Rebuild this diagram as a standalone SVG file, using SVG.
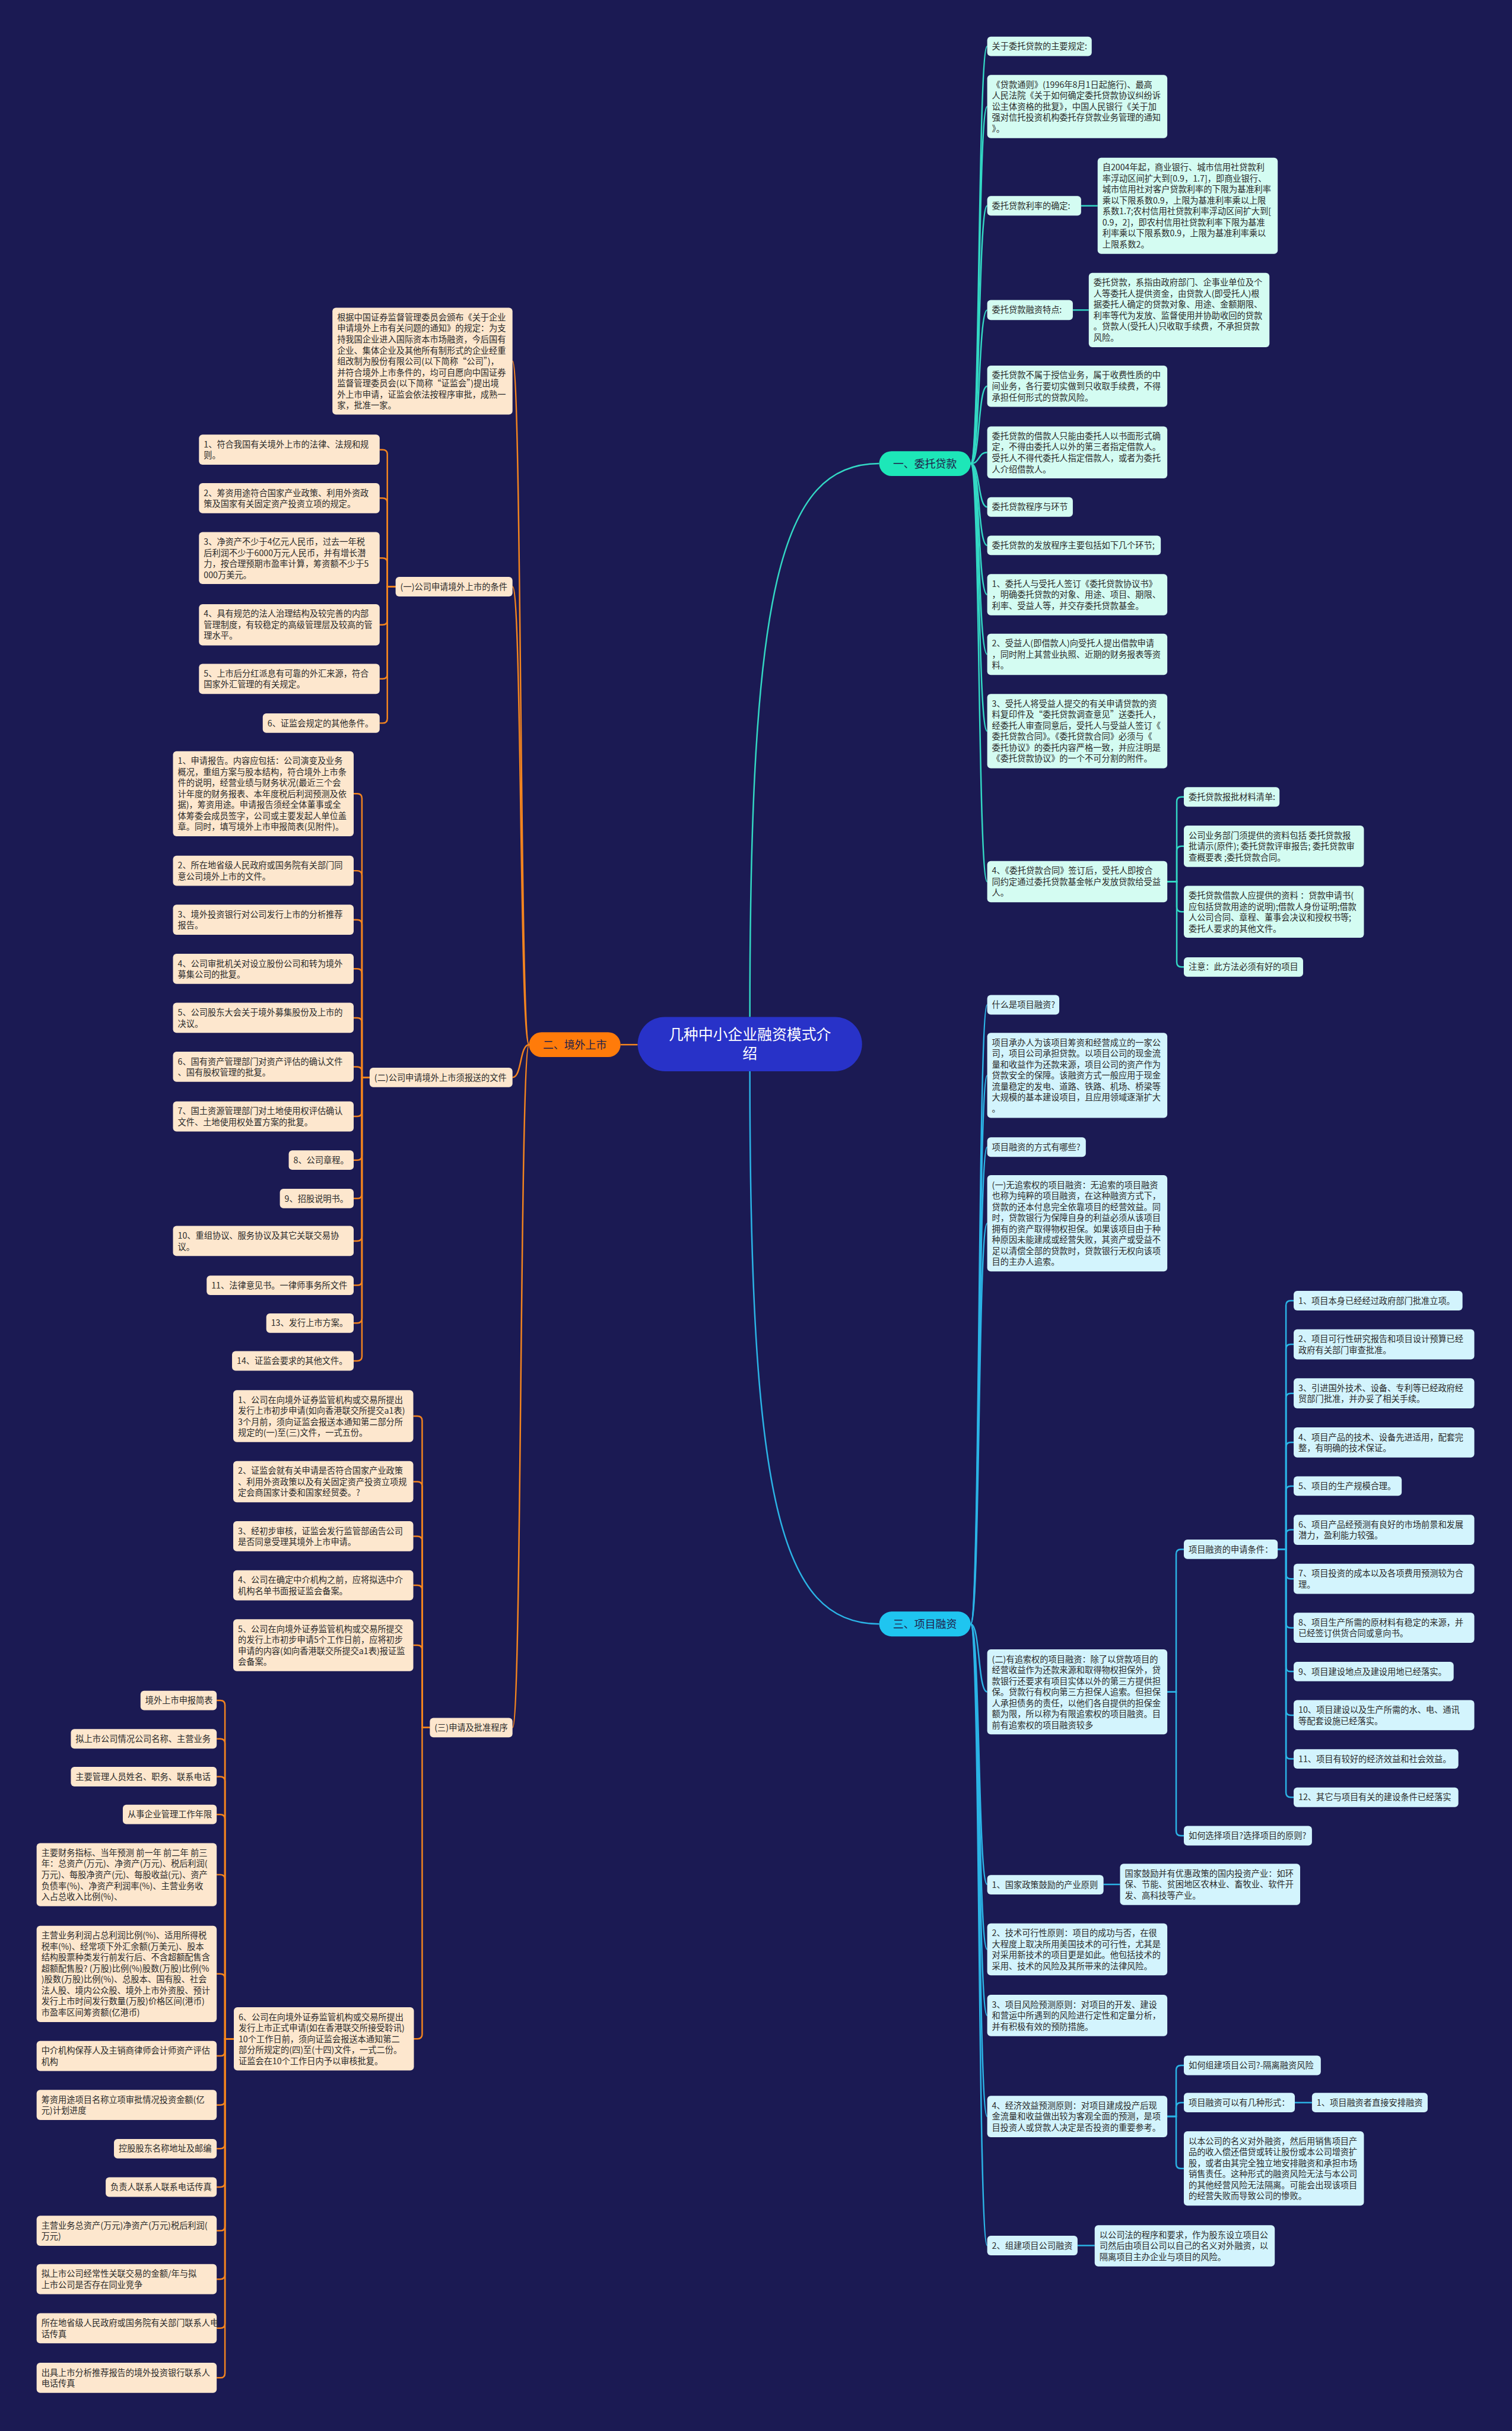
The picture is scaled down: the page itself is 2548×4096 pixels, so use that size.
<svg xmlns="http://www.w3.org/2000/svg" width="2548" height="4096" viewBox="0 0 2548 4096">
<style>
.tx{font-family:"Noto Sans CJK SC","Liberation Sans",sans-serif;font-size:14.3px;fill:#2a2a2a}
.t{fill:#d4fcf2}
.b{fill:#d3f4fd}
.o{fill:#fde7ce}
.lt{fill:none;stroke:#33d8c4;stroke-width:2.5}
.lb{fill:none;stroke:#2bb4e6;stroke-width:2.5}
.lo{fill:none;stroke:#f3841f;stroke-width:2.5}
.pl{font-family:"Noto Sans CJK SC","Liberation Sans",sans-serif;font-size:18px;fill:#20204a;text-anchor:middle}
</style>
<rect width="2548" height="4096" fill="#1b1a53"/>
<g transform="scale(0.995)">
<g id="connectors">
<path class="lt" d="M1270,1722 C1270,1000 1320,785 1489,785"/>
<path class="lb" d="M1270,1814 C1270,2536 1320,2750 1489,2750"/>
<path class="lo" d="M1080,1769 H1051"/>
<path class="lt" d="M1644,785 C1660,785 1656,78.5 1672,78.5"/>
<path class="lt" d="M1644,785 C1660,785 1656,180.5 1672,180.5"/>
<path class="lt" d="M1644,785 C1660,785 1656,348.5 1672,348.5"/>
<path class="lt" d="M1644,785 C1660,785 1656,525 1672,525"/>
<path class="lt" d="M1644,785 C1660,785 1656,654 1672,654"/>
<path class="lt" d="M1644,785 C1660,785 1656,766 1672,766"/>
<path class="lt" d="M1644,785 C1660,785 1656,858.5 1672,858.5"/>
<path class="lt" d="M1644,785 C1660,785 1656,923.5 1672,923.5"/>
<path class="lt" d="M1644,785 C1660,785 1656,1007 1672,1007"/>
<path class="lt" d="M1644,785 C1660,785 1656,1108 1672,1108"/>
<path class="lt" d="M1644,785 C1660,785 1656,1238 1672,1238"/>
<path class="lt" d="M1644,785 C1660,785 1656,1493 1672,1493"/>
<path class="lt" d="M1831,348.5 H1859"/>
<path class="lt" d="M1817,525 H1844"/>
<path class="lt" d="M1977,1493H1993V1357.5Q1993,1349.5 2001,1349.5H2005"/>
<path class="lt" d="M1977,1493H1993V1441Q1993,1433 2001,1433H2005"/>
<path class="lt" d="M1977,1493H1993V1536Q1993,1544 2001,1544H2005"/>
<path class="lt" d="M1977,1493H1993V1629.5Q1993,1637.5 2001,1637.5H2005"/>
<path class="lb" d="M1644,2750 C1660,2750 1656,1701.5 1672,1701.5"/>
<path class="lb" d="M1644,2750 C1660,2750 1656,1821 1672,1821"/>
<path class="lb" d="M1644,2750 C1660,2750 1656,1942.5 1672,1942.5"/>
<path class="lb" d="M1644,2750 C1660,2750 1656,2071.5 1672,2071.5"/>
<path class="lb" d="M1644,2750 C1660,2750 1656,2865 1672,2865"/>
<path class="lb" d="M1644,2750 C1660,2750 1656,3191 1672,3191"/>
<path class="lb" d="M1644,2750 C1660,2750 1656,3301 1672,3301"/>
<path class="lb" d="M1644,2750 C1660,2750 1656,3413 1672,3413"/>
<path class="lb" d="M1644,2750 C1660,2750 1656,3584 1672,3584"/>
<path class="lb" d="M1644,2750 C1660,2750 1656,3802.5 1672,3802.5"/>
<path class="lb" d="M1977,2865H1992V2631.5Q1992,2623.5 2000,2623.5H2005"/>
<path class="lb" d="M1977,2865H1992V3100.5Q1992,3108.5 2000,3108.5H2005"/>
<path class="lb" d="M2164,2623.5H2178V2210.5Q2178,2202.5 2186,2202.5H2191"/>
<path class="lb" d="M2164,2623.5H2178V2284.5Q2178,2276.5 2186,2276.5H2191"/>
<path class="lb" d="M2164,2623.5H2178V2367.5Q2178,2359.5 2186,2359.5H2191"/>
<path class="lb" d="M2164,2623.5H2178V2450.5Q2178,2442.5 2186,2442.5H2191"/>
<path class="lb" d="M2164,2623.5H2178V2524.5Q2178,2516.5 2186,2516.5H2191"/>
<path class="lb" d="M2164,2623.5H2178V2598.5Q2178,2590.5 2186,2590.5H2191"/>
<path class="lb" d="M2164,2623.5H2178V2665.5Q2178,2673.5 2186,2673.5H2191"/>
<path class="lb" d="M2164,2623.5H2178V2748.5Q2178,2756.5 2186,2756.5H2191"/>
<path class="lb" d="M2164,2623.5H2178V2822.5Q2178,2830.5 2186,2830.5H2191"/>
<path class="lb" d="M2164,2623.5H2178V2896.5Q2178,2904.5 2186,2904.5H2191"/>
<path class="lb" d="M2164,2623.5H2178V2970.5Q2178,2978.5 2186,2978.5H2191"/>
<path class="lb" d="M2164,2623.5H2178V3035.5Q2178,3043.5 2186,3043.5H2191"/>
<path class="lb" d="M1869,3191 H1897"/>
<path class="lb" d="M1977,3584H1992V3505.5Q1992,3497.5 2000,3497.5H2005"/>
<path class="lb" d="M1977,3584H1992V3568.5Q1992,3560.5 2000,3560.5H2005"/>
<path class="lb" d="M1977,3584H1992V3664Q1992,3672 2000,3672H2005"/>
<path class="lb" d="M2193,3560.5 H2222"/>
<path class="lb" d="M1825,3802.5 H1854"/>
<path class="lo" d="M896,1769 C880,1769 884,611.5 868,611.5"/>
<path class="lo" d="M896,1769 C880,1769 884,993.5 868,993.5"/>
<path class="lo" d="M896,1769 C880,1769 884,1824.5 868,1824.5"/>
<path class="lo" d="M896,1769 C880,1769 884,2925.5 868,2925.5"/>
<path class="lo" d="M670,993.5H656V769.5Q656,761.5 648,761.5H643"/>
<path class="lo" d="M670,993.5H656V851.5Q656,843.5 648,843.5H643"/>
<path class="lo" d="M670,993.5H656V953Q656,945 648,945H643"/>
<path class="lo" d="M670,993.5H656V1050Q656,1058 648,1058H643"/>
<path class="lo" d="M670,993.5H656V1141.5Q656,1149.5 648,1149.5H643"/>
<path class="lo" d="M670,993.5H656V1216.5Q656,1224.5 648,1224.5H643"/>
<path class="lo" d="M626,1824.5H613V1352Q613,1344 605,1344H599"/>
<path class="lo" d="M626,1824.5H613V1482.5Q613,1474.5 605,1474.5H599"/>
<path class="lo" d="M626,1824.5H613V1565.5Q613,1557.5 605,1557.5H599"/>
<path class="lo" d="M626,1824.5H613V1648.5Q613,1640.5 605,1640.5H599"/>
<path class="lo" d="M626,1824.5H613V1731.5Q613,1723.5 605,1723.5H599"/>
<path class="lo" d="M626,1824.5H613V1814.5Q613,1806.5 605,1806.5H599"/>
<path class="lo" d="M626,1824.5H613V1882.5Q613,1890.5 605,1890.5H599"/>
<path class="lo" d="M626,1824.5H613V1956.5Q613,1964.5 605,1964.5H599"/>
<path class="lo" d="M626,1824.5H613V2021.5Q613,2029.5 605,2029.5H599"/>
<path class="lo" d="M626,1824.5H613V2093.5Q613,2101.5 605,2101.5H599"/>
<path class="lo" d="M626,1824.5H613V2168.5Q613,2176.5 605,2176.5H599"/>
<path class="lo" d="M626,1824.5H613V2232.5Q613,2240.5 605,2240.5H599"/>
<path class="lo" d="M626,1824.5H613V2296.5Q613,2304.5 605,2304.5H599"/>
<path class="lo" d="M728,2925.5H715V2406Q715,2398 707,2398H700"/>
<path class="lo" d="M728,2925.5H715V2517Q715,2509 707,2509H700"/>
<path class="lo" d="M728,2925.5H715V2609.5Q715,2601.5 707,2601.5H700"/>
<path class="lo" d="M728,2925.5H715V2692.5Q715,2684.5 707,2684.5H700"/>
<path class="lo" d="M728,2925.5H715V2794Q715,2786 707,2786H700"/>
<path class="lo" d="M728,2925.5H715V3444.5Q715,3452.5 707,3452.5H700"/>
<path class="lo" d="M396,3452.5H381V2887.5Q381,2879.5 373,2879.5H367"/>
<path class="lo" d="M396,3452.5H381V2952.5Q381,2944.5 373,2944.5H367"/>
<path class="lo" d="M396,3452.5H381V3016.5Q381,3008.5 373,3008.5H367"/>
<path class="lo" d="M396,3452.5H381V3080.5Q381,3072.5 373,3072.5H367"/>
<path class="lo" d="M396,3452.5H381V3182.5Q381,3174.5 373,3174.5H367"/>
<path class="lo" d="M396,3452.5H381V3350.5Q381,3342.5 373,3342.5H367"/>
<path class="lo" d="M396,3452.5H381V3473.5Q381,3481.5 373,3481.5H367"/>
<path class="lo" d="M396,3452.5H381V3556.5Q381,3564.5 373,3564.5H367"/>
<path class="lo" d="M396,3452.5H381V3630.5Q381,3638.5 373,3638.5H367"/>
<path class="lo" d="M396,3452.5H381V3695.5Q381,3703.5 373,3703.5H367"/>
<path class="lo" d="M396,3452.5H381V3769.5Q381,3777.5 373,3777.5H367"/>
<path class="lo" d="M396,3452.5H381V3851.5Q381,3859.5 373,3859.5H367"/>
<path class="lo" d="M396,3452.5H381V3934.5Q381,3942.5 373,3942.5H367"/>
<path class="lo" d="M396,3452.5H381V4018.5Q381,4026.5 373,4026.5H367"/>
</g>

<g id="center"><rect x="1080" y="1722" width="380" height="92" rx="46" fill="#2832c8"/><text font-family="Noto Sans CJK SC, Liberation Sans, sans-serif" font-size="25" fill="#ffffff" text-anchor="middle"><tspan x="1270" y="1761">几种中小企业融资模式介</tspan><tspan x="1270" y="1793">绍</tspan></text></g>
<g id="b1"><rect x="1489" y="764" width="155" height="42" rx="21" fill="#1de7b8"/><text class="pl" x="1566.5" y="791.5">一、委托贷款</text></g>
<g id="b2"><rect x="896" y="1748" width="155" height="42" rx="21" fill="#ff7b0a"/><text class="pl" x="973.5" y="1775.5">二、境外上市</text></g>
<g id="b3"><rect x="1489" y="2729" width="155" height="42" rx="21" fill="#1fc5f0"/><text class="pl" x="1566.5" y="2756.5">三、项目融资</text></g>

<g id="r1"><rect class="t" x="1672" y="62" width="177" height="33" rx="6"/><text class="tx" x="1680" y="83.7">关于委托贷款的主要规定:</text></g>
<g id="r2"><rect class="t" x="1672" y="127" width="305" height="107" rx="6"/><text class="tx"><tspan x="1680" y="148.7">《贷款通则》(1996年8月1日起施行)、最高</tspan><tspan x="1680" y="167.3">人民法院《关于如何确定委托贷款协议纠纷诉</tspan><tspan x="1680" y="185.9">讼主体资格的批复》，中国人民银行《关于加</tspan><tspan x="1680" y="204.5">强对信托投资机构委托存贷款业务管理的通知</tspan><tspan x="1680" y="223.1">》。</tspan></text></g>
<g id="r3"><rect class="t" x="1672" y="332" width="159" height="33" rx="6"/><text class="tx" x="1680" y="353.7">委托贷款利率的确定:</text></g>
<g id="r3a"><rect class="t" x="1859" y="267" width="305" height="163" rx="6"/><text class="tx"><tspan x="1867" y="288.7">自2004年起，商业银行、城市信用社贷款利</tspan><tspan x="1867" y="307.3">率浮动区间扩大到[0.9，1.7]，即商业银行、</tspan><tspan x="1867" y="325.9">城市信用社对客户贷款利率的下限为基准利率</tspan><tspan x="1867" y="344.5">乘以下限系数0.9，上限为基准利率乘以上限</tspan><tspan x="1867" y="363.1">系数1.7;农村信用社贷款利率浮动区间扩大到[</tspan><tspan x="1867" y="381.7">0.9，2]，即农村信用社贷款利率下限为基准</tspan><tspan x="1867" y="400.3">利率乘以下限系数0.9，上限为基准利率乘以</tspan><tspan x="1867" y="418.9">上限系数2。</tspan></text></g>
<g id="r4"><rect class="t" x="1672" y="508" width="145" height="34" rx="6"/><text class="tx" x="1680" y="530">委托贷款融资特点:</text></g>
<g id="r4a"><rect class="t" x="1844" y="462" width="306" height="126" rx="6"/><text class="tx"><tspan x="1852" y="483.7">委托贷款，系指由政府部门、企事业单位及个</tspan><tspan x="1852" y="502.3">人等委托人提供资金，由贷款人(即受托人)根</tspan><tspan x="1852" y="520.9">据委托人确定的贷款对象、用途、金额期限、</tspan><tspan x="1852" y="539.5">利率等代为发放、监督使用并协助收回的贷款</tspan><tspan x="1852" y="558.1">。贷款人(受托人)只收取手续费，不承担贷款</tspan><tspan x="1852" y="576.7">风险。</tspan></text></g>
<g id="r5"><rect class="t" x="1672" y="619" width="305" height="70" rx="6"/><text class="tx"><tspan x="1680" y="640.7">委托贷款不属于授信业务，属于收费性质的中</tspan><tspan x="1680" y="659.3">间业务，各行要切实做到只收取手续费，不得</tspan><tspan x="1680" y="677.9">承担任何形式的贷款风险。</tspan></text></g>
<g id="r6"><rect class="t" x="1672" y="722" width="305" height="88" rx="6"/><text class="tx"><tspan x="1680" y="743.7">委托贷款的借款人只能由委托人以书面形式确</tspan><tspan x="1680" y="762.3">定，不得由委托人以外的第三者指定借款人。</tspan><tspan x="1680" y="780.9">受托人不得代委托人指定借款人，或者为委托</tspan><tspan x="1680" y="799.5">人介绍借款人。</tspan></text></g>
<g id="r7"><rect class="t" x="1672" y="842" width="145" height="33" rx="6"/><text class="tx" x="1680" y="863.7">委托贷款程序与环节</text></g>
<g id="r8"><rect class="t" x="1672" y="907" width="294" height="33" rx="6"/><text class="tx" x="1680" y="928.7">委托贷款的发放程序主要包括如下几个环节;</text></g>
<g id="r9"><rect class="t" x="1672" y="972" width="305" height="70" rx="6"/><text class="tx"><tspan x="1680" y="993.7">1、委托人与受托人签订《委托贷款协议书》</tspan><tspan x="1680" y="1012.3">，明确委托贷款的对象、用途、项目、期限、</tspan><tspan x="1680" y="1030.9">利率、受益人等，并交存委托贷款基金。</tspan></text></g>
<g id="r10"><rect class="t" x="1672" y="1073" width="305" height="70" rx="6"/><text class="tx"><tspan x="1680" y="1094.7">2、受益人(即借款人)向受托人提出借款申请</tspan><tspan x="1680" y="1113.3">，同时附上其营业执照、近期的财务报表等资</tspan><tspan x="1680" y="1131.9">料。</tspan></text></g>
<g id="r11"><rect class="t" x="1672" y="1175" width="305" height="126" rx="6"/><text class="tx"><tspan x="1680" y="1196.7">3、受托人将受益人提交的有关申请贷款的资</tspan><tspan x="1680" y="1215.3">料复印件及“委托贷款调查意见”送委托人，</tspan><tspan x="1680" y="1233.9">经委托人审查同意后，受托人与受益人签订《</tspan><tspan x="1680" y="1252.5">委托贷款合同》。《委托贷款合同》必须与《</tspan><tspan x="1680" y="1271.1">委托协议》的委托内容严格一致，并应注明是</tspan><tspan x="1680" y="1289.7">《委托贷款协议》的一个不可分割的附件。</tspan></text></g>
<g id="r12"><rect class="t" x="1672" y="1458" width="305" height="70" rx="6"/><text class="tx"><tspan x="1680" y="1479.7">4、《委托贷款合同》签订后，受托人即按合</tspan><tspan x="1680" y="1498.3">同约定通过委托贷款基金帐户发放贷款给受益</tspan><tspan x="1680" y="1516.9">人。</tspan></text></g>
<g id="r12a"><rect class="t" x="2005" y="1333" width="162" height="33" rx="6"/><text class="tx" x="2013" y="1354.7">委托贷款报批材料清单:</text></g>
<g id="r12b"><rect class="t" x="2005" y="1398" width="305" height="70" rx="6"/><text class="tx"><tspan x="2013" y="1419.7">公司业务部门须提供的资料包括 委托贷款报</tspan><tspan x="2013" y="1438.3">批请示(原件); 委托贷款评审报告; 委托贷款审</tspan><tspan x="2013" y="1456.9">查概要表 ;委托贷款合同。</tspan></text></g>
<g id="r12c"><rect class="t" x="2005" y="1500" width="305" height="88" rx="6"/><text class="tx"><tspan x="2013" y="1521.7">委托贷款借款人应提供的资料 ：贷款申请书(</tspan><tspan x="2013" y="1540.3">应包括贷款用途的说明);借款人身份证明;借款</tspan><tspan x="2013" y="1558.9">人公司合同、章程、董事会决议和授权书等;</tspan><tspan x="2013" y="1577.5">委托人要求的其他文件。</tspan></text></g>
<g id="r12d"><rect class="t" x="2005" y="1621" width="202" height="33" rx="6"/><text class="tx" x="2013" y="1642.7">注意：此方法必须有好的项目</text></g>

<g id="p1"><rect class="b" x="1672" y="1685" width="122" height="33" rx="6"/><text class="tx" x="1680" y="1706.7">什么是项目融资?</text></g>
<g id="p2"><rect class="b" x="1672" y="1749" width="305" height="144" rx="6"/><text class="tx"><tspan x="1680" y="1770.7">项目承办人为该项目筹资和经营成立的一家公</tspan><tspan x="1680" y="1789.3">司，项目公司承担贷款。以项目公司的现金流</tspan><tspan x="1680" y="1807.9">量和收益作为还款来源，项目公司的资产作为</tspan><tspan x="1680" y="1826.5">贷款安全的保障。该融资方式一般应用于现金</tspan><tspan x="1680" y="1845.1">流量稳定的发电、道路、铁路、机场、桥梁等</tspan><tspan x="1680" y="1863.7">大规模的基本建设项目，且应用领域逐渐扩大</tspan><tspan x="1680" y="1882.3">。</tspan></text></g>
<g id="p3"><rect class="b" x="1672" y="1926" width="167" height="33" rx="6"/><text class="tx" x="1680" y="1947.7">项目融资的方式有哪些?</text></g>
<g id="p4"><rect class="b" x="1672" y="1990" width="305" height="163" rx="6"/><text class="tx"><tspan x="1680" y="2011.7">(一)无追索权的项目融资：无追索的项目融资</tspan><tspan x="1680" y="2030.3">也称为纯粹的项目融资，在这种融资方式下，</tspan><tspan x="1680" y="2048.9">贷款的还本付息完全依靠项目的经营效益。同</tspan><tspan x="1680" y="2067.5">时，贷款银行为保障自身的利益必须从该项目</tspan><tspan x="1680" y="2086.1">拥有的资产取得物权担保。如果该项目由于种</tspan><tspan x="1680" y="2104.7">种原因未能建成或经营失败，其资产或受益不</tspan><tspan x="1680" y="2123.3">足以清偿全部的贷款时，贷款银行无权向该项</tspan><tspan x="1680" y="2141.9">目的主办人追索。</tspan></text></g>
<g id="p5"><rect class="b" x="1672" y="2793" width="305" height="144" rx="6"/><text class="tx"><tspan x="1680" y="2814.7">(二)有追索权的项目融资：除了以贷款项目的</tspan><tspan x="1680" y="2833.3">经营收益作为还款来源和取得物权担保外，贷</tspan><tspan x="1680" y="2851.9">款银行还要求有项目实体以外的第三方提供担</tspan><tspan x="1680" y="2870.5">保。贷款行有权向第三方担保人追索。但担保</tspan><tspan x="1680" y="2889.1">人承担债务的责任，以他们各自提供的担保金</tspan><tspan x="1680" y="2907.7">额为限，所以称为有限追索权的项目融资。目</tspan><tspan x="1680" y="2926.3">前有追索权的项目融资较多</tspan></text></g>
<g id="p5a"><rect class="b" x="2005" y="2607" width="159" height="33" rx="6"/><text class="tx" x="2013" y="2628.7">项目融资的申请条件：</text></g>
<g id="c1"><rect class="b" x="2191" y="2186" width="286" height="33" rx="6"/><text class="tx" x="2199" y="2207.7">1、项目本身已经经过政府部门批准立项。</text></g>
<g id="c2"><rect class="b" x="2191" y="2251" width="306" height="51" rx="6"/><text class="tx"><tspan x="2199" y="2272.7">2、项目可行性研究报告和项目设计预算已经</tspan><tspan x="2199" y="2291.3">政府有关部门审查批准。</tspan></text></g>
<g id="c3"><rect class="b" x="2191" y="2334" width="306" height="51" rx="6"/><text class="tx"><tspan x="2199" y="2355.7">3、引进国外技术、设备、专利等已经政府经</tspan><tspan x="2199" y="2374.3">贸部门批准，并办妥了相关手续。</tspan></text></g>
<g id="c4"><rect class="b" x="2191" y="2417" width="306" height="51" rx="6"/><text class="tx"><tspan x="2199" y="2438.7">4、项目产品的技术、设备先进适用，配套完</tspan><tspan x="2199" y="2457.3">整，有明确的技术保证。</tspan></text></g>
<g id="c5"><rect class="b" x="2191" y="2500" width="183" height="33" rx="6"/><text class="tx" x="2199" y="2521.7">5、项目的生产规模合理。</text></g>
<g id="c6"><rect class="b" x="2191" y="2565" width="306" height="51" rx="6"/><text class="tx"><tspan x="2199" y="2586.7">6、项目产品经预测有良好的市场前景和发展</tspan><tspan x="2199" y="2605.3">潜力，盈利能力较强。</tspan></text></g>
<g id="c7"><rect class="b" x="2191" y="2648" width="306" height="51" rx="6"/><text class="tx"><tspan x="2199" y="2669.7">7、项目投资的成本以及各项费用预测较为合</tspan><tspan x="2199" y="2688.3">理。</tspan></text></g>
<g id="c8"><rect class="b" x="2191" y="2731" width="306" height="51" rx="6"/><text class="tx"><tspan x="2199" y="2752.7">8、项目生产所需的原材料有稳定的来源，并</tspan><tspan x="2199" y="2771.3">已经签订供货合同或意向书。</tspan></text></g>
<g id="c9"><rect class="b" x="2191" y="2814" width="271" height="33" rx="6"/><text class="tx" x="2199" y="2835.7">9、项目建设地点及建设用地已经落实。</text></g>
<g id="c10"><rect class="b" x="2191" y="2879" width="306" height="51" rx="6"/><text class="tx"><tspan x="2199" y="2900.7">10、项目建设以及生产所需的水、电、通讯</tspan><tspan x="2199" y="2919.3">等配套设施已经落实。</tspan></text></g>
<g id="c11"><rect class="b" x="2191" y="2962" width="279" height="33" rx="6"/><text class="tx" x="2199" y="2983.7">11、项目有较好的经济效益和社会效益。</text></g>
<g id="c12"><rect class="b" x="2191" y="3027" width="279" height="33" rx="6"/><text class="tx" x="2199" y="3048.7">12、其它与项目有关的建设条件已经落实</text></g>
<g id="p5b"><rect class="b" x="2005" y="3092" width="217" height="33" rx="6"/><text class="tx" x="2013" y="3113.7">如何选择项目?选择项目的原则?</text></g>
<g id="p6"><rect class="b" x="1672" y="3175" width="197" height="33" rx="6"/><text class="tx" x="1680" y="3196.7">1、国家政策鼓励的产业原则</text></g>
<g id="p6a"><rect class="b" x="1897" y="3156" width="305" height="70" rx="6"/><text class="tx"><tspan x="1905" y="3177.7">国家鼓励并有优惠政策的国内投资产业：如环</tspan><tspan x="1905" y="3196.3">保、节能、贫困地区农林业、畜牧业、软件开</tspan><tspan x="1905" y="3214.9">发、高科技等产业。</tspan></text></g>
<g id="p7"><rect class="b" x="1672" y="3257" width="305" height="88" rx="6"/><text class="tx"><tspan x="1680" y="3278.7">2、技术可行性原则：项目的成功与否，在很</tspan><tspan x="1680" y="3297.3">大程度上取决所用美国技术的可行性，尤其是</tspan><tspan x="1680" y="3315.9">对采用新技术的项目更是如此。他包括技术的</tspan><tspan x="1680" y="3334.5">采用、技术的风险及其所带来的法律风险。</tspan></text></g>
<g id="p8"><rect class="b" x="1672" y="3378" width="305" height="70" rx="6"/><text class="tx"><tspan x="1680" y="3399.7">3、项目风险预测原则：对项目的开发、建设</tspan><tspan x="1680" y="3418.3">和营运中所遇到的风险进行定性和定量分析，</tspan><tspan x="1680" y="3436.9">并有积极有效的预防措施。</tspan></text></g>
<g id="p9"><rect class="b" x="1672" y="3549" width="305" height="70" rx="6"/><text class="tx"><tspan x="1680" y="3570.7">4、经济效益预测原则：对项目建成投产后现</tspan><tspan x="1680" y="3589.3">金流量和收益做出较为客观全面的预测，是项</tspan><tspan x="1680" y="3607.9">目投资人或贷款人决定是否投资的重要参考。</tspan></text></g>
<g id="p9a"><rect class="b" x="2005" y="3481" width="232" height="33" rx="6"/><text class="tx" x="2013" y="3502.7">如何组建项目公司?-隔离融资风险</text></g>
<g id="p9b"><rect class="b" x="2005" y="3544" width="188" height="33" rx="6"/><text class="tx" x="2013" y="3565.7">项目融资可以有几种形式：</text></g>
<g id="p9b1"><rect class="b" x="2222" y="3544" width="196" height="33" rx="6"/><text class="tx" x="2230" y="3565.7">1、项目融资者直接安排融资</text></g>
<g id="p9c"><rect class="b" x="2005" y="3609" width="305" height="126" rx="6"/><text class="tx"><tspan x="2013" y="3630.7">以本公司的名义对外融资，然后用销售项目产</tspan><tspan x="2013" y="3649.3">品的收入偿还借贷或转让股份或本公司增资扩</tspan><tspan x="2013" y="3667.9">股，或者由其完全独立地安排融资和承担市场</tspan><tspan x="2013" y="3686.5">销售责任。这种形式的融资风险无法与本公司</tspan><tspan x="2013" y="3705.1">的其他经营风险无法隔离。可能会出现该项目</tspan><tspan x="2013" y="3723.7">的经营失败而导致公司的惨败。</tspan></text></g>
<g id="p10"><rect class="b" x="1672" y="3786" width="153" height="33" rx="6"/><text class="tx" x="1680" y="3807.7">2、组建项目公司融资</text></g>
<g id="p10a"><rect class="b" x="1854" y="3768" width="305" height="70" rx="6"/><text class="tx"><tspan x="1862" y="3789.7">以公司法的程序和要求，作为股东设立项目公</tspan><tspan x="1862" y="3808.3">司然后由项目公司以自己的名义对外融资，以</tspan><tspan x="1862" y="3826.9">隔离项目主办企业与项目的风险。</tspan></text></g>

<g id="l0"><rect class="o" x="563" y="521" width="305" height="181" rx="6"/><text class="tx"><tspan x="571" y="542.7">根据中国证券监督管理委员会颁布《关于企业</tspan><tspan x="571" y="561.3">申请境外上市有关问题的通知》的规定：为支</tspan><tspan x="571" y="579.9">持我国企业进入国际资本市场融资，今后国有</tspan><tspan x="571" y="598.5">企业、集体企业及其他所有制形式的企业经重</tspan><tspan x="571" y="617.1">组改制为股份有限公司(以下简称“公司”)，</tspan><tspan x="571" y="635.7">并符合境外上市条件的，均可自愿向中国证券</tspan><tspan x="571" y="654.3">监督管理委员会(以下简称“证监会”)提出境</tspan><tspan x="571" y="672.9">外上市申请，证监会依法按程序审批，成熟一</tspan><tspan x="571" y="691.5">家，批准一家。</tspan></text></g>
<g id="l1"><rect class="o" x="670" y="977" width="198" height="33" rx="6"/><text class="tx" x="678" y="998.7">(一)公司申请境外上市的条件</text></g>
<g id="l1c1"><rect class="o" x="337" y="736" width="306" height="51" rx="6"/><text class="tx"><tspan x="345" y="757.7">1、符合我国有关境外上市的法律、法规和规</tspan><tspan x="345" y="776.3">则。</tspan></text></g>
<g id="l1c2"><rect class="o" x="337" y="818" width="306" height="51" rx="6"/><text class="tx"><tspan x="345" y="839.7">2、筹资用途符合国家产业政策、利用外资政</tspan><tspan x="345" y="858.3">策及国家有关固定资产投资立项的规定。</tspan></text></g>
<g id="l1c3"><rect class="o" x="337" y="901" width="306" height="88" rx="6"/><text class="tx"><tspan x="345" y="922.7">3、净资产不少于4亿元人民币，过去一年税</tspan><tspan x="345" y="941.3">后利润不少于6000万元人民币，并有增长潜</tspan><tspan x="345" y="959.9">力，按合理预期市盈率计算，筹资额不少于5</tspan><tspan x="345" y="978.5">000万美元。</tspan></text></g>
<g id="l1c4"><rect class="o" x="337" y="1023" width="306" height="70" rx="6"/><text class="tx"><tspan x="345" y="1044.7">4、具有规范的法人治理结构及较完善的内部</tspan><tspan x="345" y="1063.3">管理制度，有较稳定的高级管理层及较高的管</tspan><tspan x="345" y="1081.9">理水平。</tspan></text></g>
<g id="l1c5"><rect class="o" x="337" y="1124" width="306" height="51" rx="6"/><text class="tx"><tspan x="345" y="1145.7">5、上市后分红派息有可靠的外汇来源，符合</tspan><tspan x="345" y="1164.3">国家外汇管理的有关规定。</tspan></text></g>
<g id="l1c6"><rect class="o" x="445" y="1208" width="198" height="33" rx="6"/><text class="tx" x="453" y="1229.7">6、证监会规定的其他条件。</text></g>

<g id="l2"><rect class="o" x="626" y="1808" width="242" height="33" rx="6"/><text class="tx" x="634" y="1829.7">(二)公司申请境外上市须报送的文件</text></g>
<g id="l2c1"><rect class="o" x="293" y="1272" width="306" height="144" rx="6"/><text class="tx"><tspan x="301" y="1293.7">1、申请报告。内容应包括：公司演变及业务</tspan><tspan x="301" y="1312.3">概况，重组方案与股本结构，符合境外上市条</tspan><tspan x="301" y="1330.9">件的说明，经营业绩与财务状况(最近三个会</tspan><tspan x="301" y="1349.5">计年度的财务报表、本年度税后利润预测及依</tspan><tspan x="301" y="1368.1">据)，筹资用途。申请报告须经全体董事或全</tspan><tspan x="301" y="1386.7">体筹委会成员签字，公司或主要发起人单位盖</tspan><tspan x="301" y="1405.3">章。同时，填写境外上市申报简表(见附件)。</tspan></text></g>
<g id="l2c2"><rect class="o" x="293" y="1449" width="306" height="51" rx="6"/><text class="tx"><tspan x="301" y="1470.7">2、所在地省级人民政府或国务院有关部门同</tspan><tspan x="301" y="1489.3">意公司境外上市的文件。</tspan></text></g>
<g id="l2c3"><rect class="o" x="293" y="1532" width="306" height="51" rx="6"/><text class="tx"><tspan x="301" y="1553.7">3、境外投资银行对公司发行上市的分析推荐</tspan><tspan x="301" y="1572.3">报告。</tspan></text></g>
<g id="l2c4"><rect class="o" x="293" y="1615" width="306" height="51" rx="6"/><text class="tx"><tspan x="301" y="1636.7">4、公司审批机关对设立股份公司和转为境外</tspan><tspan x="301" y="1655.3">募集公司的批复。</tspan></text></g>
<g id="l2c5"><rect class="o" x="293" y="1698" width="306" height="51" rx="6"/><text class="tx"><tspan x="301" y="1719.7">5、公司股东大会关于境外募集股份及上市的</tspan><tspan x="301" y="1738.3">决议。</tspan></text></g>
<g id="l2c6"><rect class="o" x="293" y="1781" width="306" height="51" rx="6"/><text class="tx"><tspan x="301" y="1802.7">6、国有资产管理部门对资产评估的确认文件</tspan><tspan x="301" y="1821.3">、国有股权管理的批复。</tspan></text></g>
<g id="l2c7"><rect class="o" x="293" y="1865" width="306" height="51" rx="6"/><text class="tx"><tspan x="301" y="1886.7">7、国土资源管理部门对土地使用权评估确认</tspan><tspan x="301" y="1905.3">文件、土地使用权处置方案的批复。</tspan></text></g>
<g id="l2c8"><rect class="o" x="489" y="1948" width="110" height="33" rx="6"/><text class="tx" x="497" y="1969.7">8、公司章程。</text></g>
<g id="l2c9"><rect class="o" x="474" y="2013" width="125" height="33" rx="6"/><text class="tx" x="482" y="2034.7">9、招股说明书。</text></g>
<g id="l2c10"><rect class="o" x="293" y="2076" width="306" height="51" rx="6"/><text class="tx"><tspan x="301" y="2097.7">10、重组协议、服务协议及其它关联交易协</tspan><tspan x="301" y="2116.3">议。</tspan></text></g>
<g id="l2c11"><rect class="o" x="350" y="2160" width="249" height="33" rx="6"/><text class="tx" x="358" y="2181.7">11、法律意见书。一律师事务所文件</text></g>
<g id="l2c13"><rect class="o" x="451" y="2224" width="148" height="33" rx="6"/><text class="tx" x="459" y="2245.7">13、发行上市方案。</text></g>
<g id="l2c14"><rect class="o" x="393" y="2288" width="206" height="33" rx="6"/><text class="tx" x="401" y="2309.7">14、证监会要求的其他文件。</text></g>

<g id="l3"><rect class="o" x="728" y="2909" width="140" height="33" rx="6"/><text class="tx" x="736" y="2930.7">(三)申请及批准程序</text></g>
<g id="l3c1"><rect class="o" x="395" y="2354" width="305" height="88" rx="6"/><text class="tx"><tspan x="403" y="2375.7">1、公司在向境外证券监管机构或交易所提出</tspan><tspan x="403" y="2394.3">发行上市初步申请(如向香港联交所提交a1表)</tspan><tspan x="403" y="2412.9">3个月前，须向证监会报送本通知第二部分所</tspan><tspan x="403" y="2431.5">规定的(一)至(三)文件，一式五份。</tspan></text></g>
<g id="l3c2"><rect class="o" x="395" y="2474" width="305" height="70" rx="6"/><text class="tx"><tspan x="403" y="2495.7">2、证监会就有关申请是否符合国家产业政策</tspan><tspan x="403" y="2514.3">、利用外资政策以及有关固定资产投资立项规</tspan><tspan x="403" y="2532.9">定会商国家计委和国家经贸委。?</tspan></text></g>
<g id="l3c3"><rect class="o" x="395" y="2576" width="305" height="51" rx="6"/><text class="tx"><tspan x="403" y="2597.7">3、经初步审核，证监会发行监管部函告公司</tspan><tspan x="403" y="2616.3">是否同意受理其境外上市申请。</tspan></text></g>
<g id="l3c4"><rect class="o" x="395" y="2659" width="305" height="51" rx="6"/><text class="tx"><tspan x="403" y="2680.7">4、公司在确定中介机构之前，应将拟选中介</tspan><tspan x="403" y="2699.3">机构名单书面报证监会备案。</tspan></text></g>
<g id="l3c5"><rect class="o" x="395" y="2742" width="305" height="88" rx="6"/><text class="tx"><tspan x="403" y="2763.7">5、公司在向境外证券监管机构或交易所提交</tspan><tspan x="403" y="2782.3">的发行上市初步申请5个工作日前，应将初步</tspan><tspan x="403" y="2800.9">申请的内容(如向香港联交所提交a1表)报证监</tspan><tspan x="403" y="2819.5">会备案。</tspan></text></g>
<g id="l3c6"><rect class="o" x="396" y="3399" width="305" height="107" rx="6"/><text class="tx"><tspan x="404" y="3420.7">6、公司在向境外证券监管机构或交易所提出</tspan><tspan x="404" y="3439.3">发行上市正式申请(如在香港联交所接受聆讯)</tspan><tspan x="404" y="3457.9">10个工作日前，须向证监会报送本通知第二</tspan><tspan x="404" y="3476.5">部分所规定的(四)至(十四)文件，一式二份。</tspan><tspan x="404" y="3495.1">证监会在10个工作日内予以审核批复。</tspan></text></g>

<g id="s1"><rect class="o" x="238" y="2863" width="129" height="33" rx="6"/><text class="tx" x="246" y="2884.7">境外上市申报简表</text></g>
<g id="s2"><rect class="o" x="120" y="2928" width="247" height="33" rx="6"/><text class="tx" x="128" y="2949.7">拟上市公司情况公司名称、主营业务</text></g>
<g id="s3"><rect class="o" x="120" y="2992" width="247" height="33" rx="6"/><text class="tx" x="128" y="3013.7">主要管理人员姓名、职务、联系电话</text></g>
<g id="s4"><rect class="o" x="208" y="3056" width="159" height="33" rx="6"/><text class="tx" x="216" y="3077.7">从事企业管理工作年限</text></g>
<g id="s5"><rect class="o" x="62" y="3121" width="305" height="107" rx="6"/><text class="tx"><tspan x="70" y="3142.7">主要财务指标、当年预测 前一年 前二年 前三</tspan><tspan x="70" y="3161.3">年：总资产(万元)、净资产(万元)、税后利润(</tspan><tspan x="70" y="3179.9">万元)、每股净资产(元)、每股收益(元)、资产</tspan><tspan x="70" y="3198.5">负债率(%)、净资产利润率(%)、主营业务收</tspan><tspan x="70" y="3217.1">入占总收入比例(%)、</tspan></text></g>
<g id="s6"><rect class="o" x="62" y="3261" width="305" height="163" rx="6"/><text class="tx"><tspan x="70" y="3282.7">主营业务利润占总利润比例(%)、适用所得税</tspan><tspan x="70" y="3301.3">税率(%)、经常项下外汇余额(万美元)、股本</tspan><tspan x="70" y="3319.9">结构股票种类发行前发行后、不含超额配售含</tspan><tspan x="70" y="3338.5">超额配售股? (万股)比例(%)股数(万股)比例(%</tspan><tspan x="70" y="3357.1">)股数(万股)比例(%)、总股本、国有股、社会</tspan><tspan x="70" y="3375.7">法人股、境内公众股、境外上市外资股、预计</tspan><tspan x="70" y="3394.3">发行上市时间发行数量(万股)价格区间(港币)</tspan><tspan x="70" y="3412.9">市盈率区间筹资额(亿港币)</tspan></text></g>
<g id="s7"><rect class="o" x="62" y="3456" width="305" height="51" rx="6"/><text class="tx"><tspan x="70" y="3477.7">中介机构保荐人及主销商律师会计师资产评估</tspan><tspan x="70" y="3496.3">机构</tspan></text></g>
<g id="s8"><rect class="o" x="62" y="3539" width="305" height="51" rx="6"/><text class="tx"><tspan x="70" y="3560.7">筹资用途项目名称立项审批情况投资金额(亿</tspan><tspan x="70" y="3579.3">元)计划进度</tspan></text></g>
<g id="s9"><rect class="o" x="193" y="3622" width="174" height="33" rx="6"/><text class="tx" x="201" y="3643.7">控股股东名称地址及邮编</text></g>
<g id="s10"><rect class="o" x="179" y="3687" width="188" height="33" rx="6"/><text class="tx" x="187" y="3708.7">负责人联系人联系电话传真</text></g>
<g id="s11"><rect class="o" x="62" y="3752" width="305" height="51" rx="6"/><text class="tx"><tspan x="70" y="3773.7">主营业务总资产(万元)净资产(万元)税后利润(</tspan><tspan x="70" y="3792.3">万元)</tspan></text></g>
<g id="s12"><rect class="o" x="62" y="3834" width="305" height="51" rx="6"/><text class="tx"><tspan x="70" y="3855.7">拟上市公司经常性关联交易的金额/年与拟</tspan><tspan x="70" y="3874.3">上市公司是否存在同业竞争</tspan></text></g>
<g id="s13"><rect class="o" x="62" y="3917" width="305" height="51" rx="6"/><text class="tx"><tspan x="70" y="3938.7">所在地省级人民政府或国务院有关部门联系人电</tspan><tspan x="70" y="3957.3">话传真</tspan></text></g>
<g id="s14"><rect class="o" x="62" y="4001" width="305" height="51" rx="6"/><text class="tx"><tspan x="70" y="4022.7">出具上市分析推荐报告的境外投资银行联系人</tspan><tspan x="70" y="4041.3">电话传真</tspan></text></g>
</g>
</svg>
